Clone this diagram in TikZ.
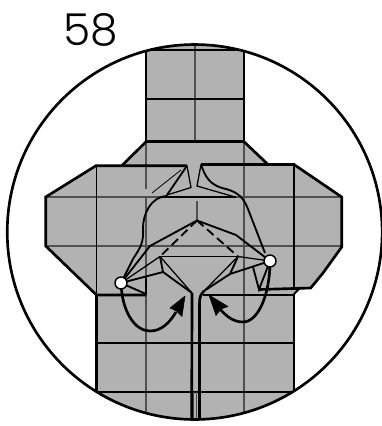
\documentclass[tikz,border=0pt]{standalone}
\usepackage{fontspec}
\newfontfamily\numfont{Poppins Light}
\definecolor{paper}{HTML}{B2B2B2}
\definecolor{crease}{HTML}{505050}
\tikzset{
  thickedge/.style={line width=2pt,black,line join=miter},
  midedge/.style={line width=1.4pt,black},
  thinedge/.style={line width=0.95pt,black},
  hairedge/.style={line width=0.6pt,black},
  gridline/.style={line width=0.95pt,crease},
  arrowhead/.style={fill=black,draw=black,line width=0.4pt,line join=round},
  pivot/.style={circle,draw=black,fill=white,line width=1.1pt,minimum size=9pt,inner sep=0pt}
}
\begin{document}
\begin{tikzpicture}[x=0.75pt,y=-0.75pt]
\useasboundingbox (0,0) rectangle (382,426);
\coordinate (apex) at (197,220.5);
\coordinate (L) at (121,283);
\coordinate (R) at (270,261);
\coordinate (LK) at (160,256.5);
\coordinate (RK) at (238,256.5);
\coordinate (LM) at (163,272);
\coordinate (RM) at (230,274);
\coordinate (LB) at (192,293);
\coordinate (RB) at (204,291);
\begin{scope}
\clip (194.7,232) circle[radius=140.6pt];
\fill[paper] (146,40) -- (244,40) -- (244,141.7) -- (268,164.5) -- (294,164.5) -- (341.7,197) -- (341.7,247) -- (323,273) -- (310.7,288) -- (300,288) -- (294,294) -- (294,430) -- (96.5,430) -- (96.5,295) -- (45.7,246) -- (45.7,197) -- (96,165.5) -- (122,165.5) -- (146,141.7) -- cycle;
% grid
\draw[gridline] (195,40) -- (195,141.7);
\draw[thinedge] (146,99) -- (244,99);
\draw[thinedge] (146,50) -- (244,50);
\draw[gridline] (45.7,197) -- (341.7,197);
\draw[gridline] (45.7,246) -- (341.7,246);
\draw[thinedge] (96.5,165.5) -- (96.5,295);
\draw[thinedge] (294,164.5) -- (294,288);
\draw[gridline] (146,141.7) -- (146,189);
\draw[gridline] (146,295) -- (146,430);
\draw[gridline] (146,197) -- (146,277);
\draw[gridline] (244,141.7) -- (244,430);
\draw[thinedge] (203,295) -- (294,295);
\draw[thinedge] (96.5,343) -- (294,343);
\draw[thinedge] (96.5,392) -- (294,392);
\draw[gridline] (197,201) -- (197,220.5);
\draw[line width=0.5pt,crease] (193.5,392) -- (193.5,425) (196,392) -- (196,425);
% outline
\draw[thickedge] (146,40) -- (146,141.7) -- (244,141.7) -- (244,40);
\draw[thickedge] (122,165.5) -- (146,141.7);
\draw[thickedge] (244,141.7) -- (268,164.5);
\draw[thickedge] (187,165.7) -- (96,165.7) -- (45.7,197) -- (45.7,246) -- (96.5,295) -- (146,295);
\draw[thickedge] (96.5,295) -- (96.5,430);
\draw[thickedge] (201,164.5) -- (294,164.5) -- (341.7,197) -- (341.7,247) -- (323,273) -- (310.7,288) -- (259,289.5);
\draw[midedge] (300,288) -- (294,294);
\draw[thickedge] (294,294) -- (294,430);
% top flaps
\draw[thinedge] (187,165.7) -- (191,187.5) -- (167,195);
\draw[midedge] (187,165.7) -- (167,195);
\draw[hairedge] (152,193) -- (181,170);
\draw[thinedge] (201,164.5) -- (197,186) -- (235,197);
\draw[midedge] (201,164.5) .. controls (205,176) and (209,184) .. (222,188) .. controls (236,191) and (243,196) .. (248,209) -- (265,253);
\draw[thickedge] (160,197) -- (236,197);
\draw[midedge] (167,196) .. controls (150,197) and (143,215) .. (143,228) .. controls (144,243) and (140,248) .. (133,259) -- (L);
% centre
\draw[midedge] (apex) -- (150,246) -- (L);
\draw[midedge] (apex) -- (236,235) -- (R);
\draw[midedge,dash pattern=on 6.5pt off 3.5pt] (apex) -- (LK);
\draw[midedge,dash pattern=on 6.5pt off 3.5pt] (apex) -- (RK);
\draw[thinedge] (LK) -- (RK);
\draw[thinedge] (LK) -- (L);
\draw[thinedge] (RK) -- (R);
\draw[midedge] (L) -- (LM) -- (LK);
\draw[midedge] (R) -- (RM) -- (RK);
\draw[midedge] (LM) -- (LB);
\draw[thinedge] (LK) -- (LB);
\draw[thinedge] (RK) -- (RB);
\draw[midedge] (RM) -- (RB);
\draw[thickedge] (LB) -- (191.7,430);
\draw[thickedge] (RB) .. controls (201,294) and (199.5,297) .. (199.5,303) -- (199.5,430);
% side bits
\draw[midedge] (L) -- (146,294);
\draw[thickedge] (146,277) -- (146,295);
\draw[midedge] (253,267) -- (259,289.5) -- (R);
% arrows
\draw[line width=2pt] (L) .. controls (122,312) and (135,331) .. (150,331) .. controls (162,331) and (170,322) .. (176,312);
\fill[arrowhead] (185,296) -- (182,316.5) -- (176.5,311) -- (170,308) -- cycle;
\draw[line width=2pt] (R) .. controls (270,295) and (258,322) .. (243,322) .. controls (234,322) and (227,317) .. (220,309);
\fill[arrowhead] (209,295) -- (228,306.5) -- (221,309) -- (216,315.5) -- cycle;
\end{scope}
\draw[line width=2pt] (194.7,232) circle[radius=140.6pt];
\node[pivot] (pl) at (L) {};
\node[pivot] (pr) at (R) {};
\node[inner sep=0pt,anchor=base west] (num) at (63.5,45) {\fontsize{33}{33}\selectfont\numfont 58};
\end{tikzpicture}
\end{document}
